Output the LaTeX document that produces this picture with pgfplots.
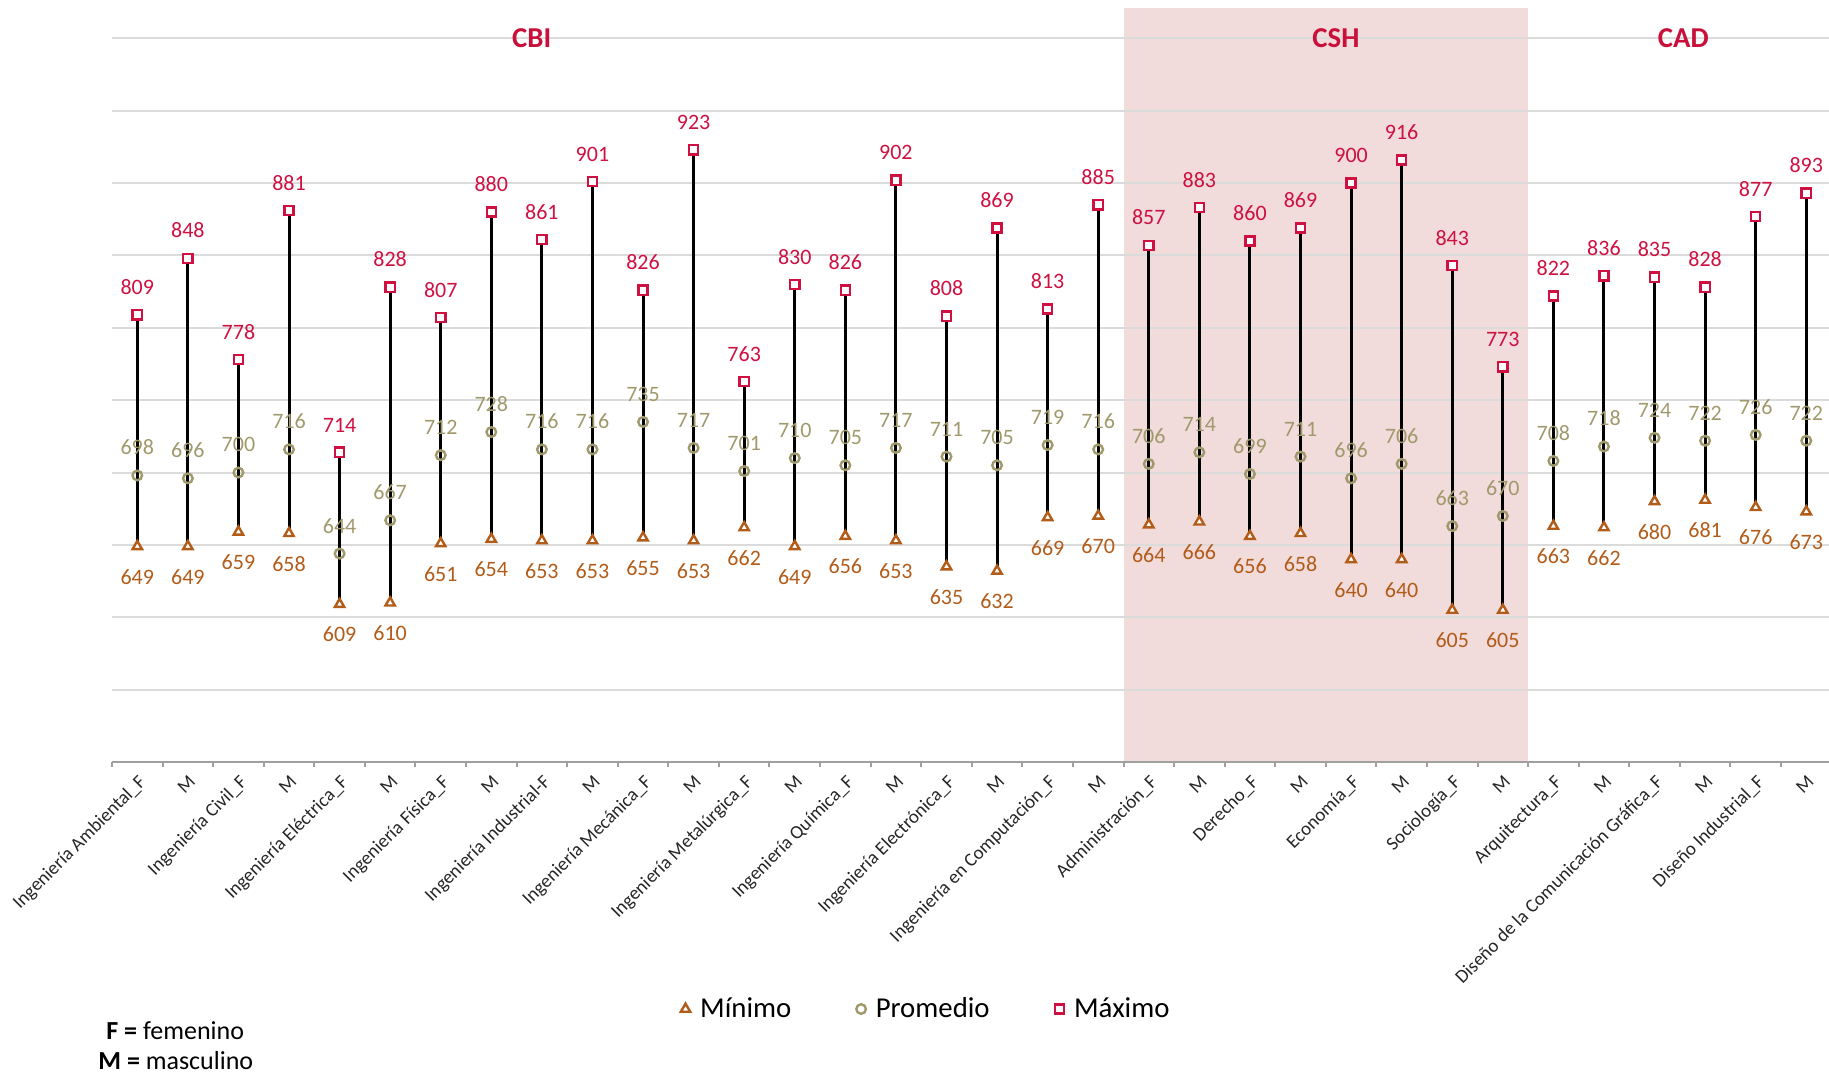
\documentclass[border=0pt]{standalone}
\usepackage{fontspec}
\setmainfont{Carlito}
\usepackage{pgfplots}
\pgfplotsset{compat=1.18}
\usepackage{pgfplotstable}

\definecolor{cmax}{RGB}{206,17,65}
\definecolor{cavg}{RGB}{160,153,108}
\definecolor{cmin}{RGB}{178,92,26}
\definecolor{cshade}{RGB}{241,219,219}
\definecolor{cgrp}{RGB}{200,16,58}

\pgfplotstableread{
x min avg max
0 649 698 809
1 649 696 848
2 659 700 778
3 658 716 881
4 609 644 714
5 610 667 828
6 651 712 807
7 654 728 880
8 653 716 861
9 653 716 901
10 655 735 826
11 653 717 923
12 662 701 763
13 649 710 830
14 656 705 826
15 653 717 902
16 635 711 808
17 632 705 869
18 669 719 813
19 670 716 885
20 664 706 857
21 666 714 883
22 656 699 860
23 658 711 869
24 640 696 900
25 640 706 916
26 605 663 843
27 605 670 773
28 663 708 822
29 662 718 836
30 680 724 835
31 681 722 828
32 676 726 877
33 673 722 893
}\datatable

\begin{document}
\begin{tikzpicture}
\begin{axis}[
  at={(0,0)}, anchor=south west,
  scale only axis, width=858.5pt, height=377pt,
  xmin=-0.5, xmax=33.45, ymin=500, ymax=1021,
  set layers,
  clip=false,
  axis x line*=bottom, axis y line*=left,
  y axis line style={draw=none},
  x axis line style={draw=gray!75, line width=1pt},
  ytick={500,550,...,1000}, yticklabels={}, ytick style={draw=none},
  ymajorgrids, grid style={draw=gray!28, line width=1pt},
  xtick={0,...,33},
  xticklabels={Ingeniería Ambiental\_F, M, Ingeniería Civil\_F, M, Ingeniería Eléctrica\_F, M, Ingeniería Física\_F, M, Ingeniería Industrial-F, M, Ingeniería Mecánica\_F, M, Ingeniería Metalúrgica\_F, M, Ingeniería Química\_F, M, Ingeniería Electrónica\_F, M, Ingeniería en Computación\_F, M, Administración\_F, M, Derecho\_F, M, Economía\_F, M, Sociología\_F, M, Arquitectura\_F, M, Diseño de la Comunicación Gráfica\_F, M, Diseño Industrial\_F, M},
  major x tick style={draw=none},
  minor xtick={-0.5,0.5,...,33.5},
  minor x tick style={draw=gray!75, line width=1pt},
  minor tick length=2.5pt,
  tick align=outside,
  xticklabel style={rotate=45, anchor=north east, font=\fontsize{9.5}{11}\selectfont, text=black!85, inner sep=1pt},
  /pgf/number format/assume math mode=true,
  legend columns=3,
  legend image code/.code={\path (0cm,0cm); \path (0.38cm,0cm); \draw[#1] plot coordinates {(0.2cm,0cm)};},
  legend style={at={(0.4727,-0.3276)}, anchor=center, draw=none, fill=none,
    font=\fontsize{14.4}{17}\selectfont,
    /tikz/every even column/.append style={column sep=27pt}},
]
\addplot[on layer=axis background, fill=cshade, draw=none, forget plot]
  coordinates {(19.5,500) (19.5,1021) (27.5,1021) (27.5,500)} -- cycle;

\addplot[forget plot, only marks, mark=none,
  error bars/.cd, y dir=minus, y explicit, error mark=none,
  error bar style={black, line width=1.5pt}]
  table[x=x, y=max, y error expr=\thisrow{max}-\thisrow{min}] {\datatable};

\addplot[only marks, mark=triangle*, mark size=2.7pt,
  mark options={draw=cmin, fill=white, line width=1.2pt},
  nodes near coords,
  every node near coord/.append style={anchor=north, yshift=-10.8pt, inner sep=0pt, text=cmin, font=\fontsize{11}{13}\selectfont}]
  table[x=x, y=min] {\datatable};
\addlegendentry{Mínimo}

\addplot[only marks, mark=o, mark size=2.4pt,
  mark options={draw=cavg, line width=1.2pt},
  nodes near coords,
  every node near coord/.append style={anchor=south, yshift=9.6pt, inner sep=0pt, text=cavg, font=\fontsize{11}{13}\selectfont}]
  table[x=x, y=avg] {\datatable};
\addlegendentry{Promedio}

\addplot[only marks, mark=square*, mark size=2.3pt,
  mark options={draw=cmax, fill=white, line width=1.2pt},
  nodes near coords,
  every node near coord/.append style={anchor=south, yshift=9.5pt, inner sep=0pt, text=cmax, font=\fontsize{11}{13}\selectfont}]
  table[x=x, y=max] {\datatable};
\addlegendentry{Máximo}

\node[font=\bfseries\fontsize{14.4}{17}\selectfont, text=cgrp] at (axis cs:7.8,1000) {CBI};
\node[font=\bfseries\fontsize{14.4}{17}\selectfont, text=cgrp] at (axis cs:23.7,1000) {CSH};
\node[font=\bfseries\fontsize{14.4}{17}\selectfont, text=cgrp] at (axis cs:30.57,1000) {CAD};
\end{axis}
\node[anchor=west, inner sep=0pt, font=\fontsize{13}{15}\selectfont] at (-3pt,-134.5pt) {\textbf{F =} femenino};
\node[anchor=west, inner sep=0pt, font=\fontsize{13}{15}\selectfont] at (-7pt,-149.5pt) {\textbf{M =} masculino};
\pgfresetboundingbox
\path[use as bounding box] (-56pt,-156.5pt) rectangle (858.5pt,381pt);
\end{tikzpicture}
\end{document}
